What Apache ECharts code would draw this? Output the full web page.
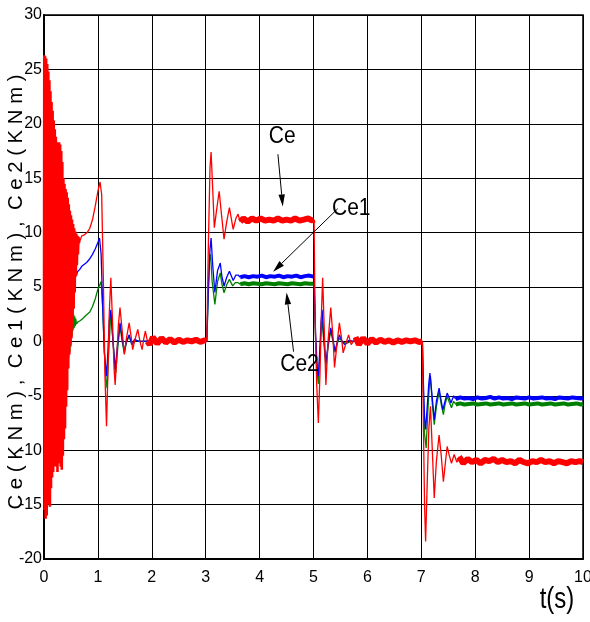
<!DOCTYPE html>
<html>
<head>
<meta charset="utf-8">
<script src="https://cdn.jsdelivr.net/npm/echarts@6/dist/echarts.min.js"></script>
<style>html,body{margin:0;padding:0;background:#fff;}#c{width:590px;height:622px;}</style>
</head>
<body>
<div id="c"></div>
<script>
// ---- axis ticks ----
var xTicks = [0,1,2,3,4,5,6,7,8,9,10];
var yTicks = [-20,-15,-10,-5,0,5,10,15,20,25,30];
var yTitle = 'C e ( K N m ) ,  C e 1 ( K N m ) ,  C e 2 ( K N m )';
var xTitle = 't(s)';

// ---- Ce (red): start-up oscillation, transients, steady bands ----
var ceBlob = [[0.00,0],[0.005,26.3],[0.01,-15.5],[0.02,26.2],[0.03,-16.3],[0.04,26.0],[0.05,-16.0],[0.06,25.5],[0.07,-15.0],[0.08,24.8],[0.09,-14.5],[0.10,24.0],[0.11,-15.2],[0.12,23.0],[0.13,-13.5],[0.14,22.0],[0.15,-12.5],[0.16,21.2],[0.17,-12.0],[0.18,20.3],[0.19,-11.5],[0.20,19.5],[0.21,-11.0],[0.22,18.8],[0.23,-11.5],[0.24,18.3],[0.25,-12.0],[0.26,18.2],[0.27,-11.2],[0.28,18.3],[0.29,-10.8],[0.30,18.1],[0.31,-11.5],[0.32,17.5],[0.33,-11.8],[0.34,16.5],[0.35,-10.5],[0.36,15.0],[0.37,-9.0],[0.38,14.5],[0.39,-8.0],[0.40,14.0],[0.41,-6.0],[0.42,13.7],[0.43,-4.5],[0.44,13.2],[0.45,-2.5],[0.46,12.6],[0.47,-1.2],[0.48,12.0],[0.49,-0.3],[0.50,11.6],[0.51,0.3],[0.52,11.2],[0.53,1.5],[0.54,10.8],[0.55,3.0],[0.56,10.4],[0.57,4.5],[0.58,10.1],[0.59,6.0],[0.60,9.9],[0.61,7.0],[0.62,9.7],[0.63,8.0],[0.64,9.6],[0.65,9.0]];
var ceStart = [[0.65,9.0],[0.70,9.7],[0.75,9.8],[0.80,10.0],[0.85,10.4],[0.90,11.2],[0.95,12.4],[1.00,13.8],[1.04,14.65],[1.07,13.5],[1.10,6.0],[1.13,-3.0],[1.16,-7.8],[1.18,-4.0],[1.21,2.5],[1.24,5.85],[1.27,2.0],[1.30,-2.5],[1.32,-4.0],[1.35,-1.5],[1.38,1.5],[1.41,3.1],[1.45,1.0],[1.49,-1.2],[1.53,0.3],[1.58,1.7],[1.62,0.3],[1.645,-0.75],[1.69,0.2],[1.74,1.1],[1.78,0.0],[1.82,-0.75],[1.85,0.2],[1.88,0.95],[1.92,0.0]];
var ceStep3 = [[3.02,0.05],[3.05,9.0],[3.08,16.0],[3.10,17.4],[3.13,14.0],[3.16,10.45],[3.20,12.0],[3.25,13.8],[3.29,11.8],[3.34,9.4],[3.39,11.0],[3.44,12.3],[3.51,10.3],[3.56,11.3],[3.60,11.7],[3.64,11.0]];
var ceStep5 = [[5.01,11.2],[5.03,2.0],[5.06,-4.0],[5.09,-7.5],[5.12,-3.0],[5.15,3.0],[5.17,5.85],[5.20,1.0],[5.23,-4.0],[5.27,0.0],[5.32,3.1],[5.36,0.5],[5.39,-2.4],[5.43,-0.5],[5.48,1.7],[5.52,0.3],[5.55,-1.05],[5.60,-0.2],[5.65,0.6],[5.70,-0.3],[5.75,0.1],[5.78,0.4]];
var ceStep7 = [[7.02,0.0],[7.04,-8.0],[7.06,-15.0],[7.08,-18.4],[7.11,-13.0],[7.14,-8.0],[7.17,-5.97],[7.20,-9.5],[7.24,-14.4],[7.28,-11.0],[7.33,-8.6],[7.37,-10.5],[7.41,-12.9],[7.45,-11.0],[7.48,-9.66],[7.52,-10.5],[7.56,-11.2],[7.61,-10.4],[7.66,-11.1],[7.70,-10.6]];
var ceBand1 = [[1.92,0.0],[1.96,-0.3],[2.02,0.4],[2.10,-0.2],[2.18,0.3],[2.26,-0.1],[2.34,0.2],[2.42,-0.1],[2.50,0.15],[2.58,-0.05],[2.66,0.1],[2.74,0.0],[2.82,0.15],[2.90,-0.05],[2.98,0.1],[3.02,0.05]];
var ceBand2 = [[3.64,11.0],[3.70,11.3],[3.78,11.0],[3.86,11.3],[3.94,11.1],[4.02,11.3],[4.10,11.1],[4.18,11.2],[4.26,11.1],[4.34,11.3],[4.42,11.1],[4.50,11.2],[4.58,11.1],[4.66,11.3],[4.74,11.1],[4.82,11.2],[4.90,11.3],[4.98,11.1],[5.01,11.2]];
var ceBand3 = [[5.78,0.4],[5.84,-0.3],[5.92,0.3],[6.00,-0.2],[6.08,0.2],[6.16,-0.1],[6.24,0.15],[6.32,-0.05],[6.40,0.1],[6.48,-0.1],[6.56,0.1],[6.64,-0.05],[6.72,0.1],[6.80,0.0],[6.88,0.1],[6.96,-0.05],[7.02,0.0]];
var ceBand4 = [[7.70,-10.6],[7.78,-11.2],[7.86,-10.8],[7.94,-11.1],[8.02,-10.9],[8.10,-11.2],[8.18,-10.9],[8.26,-11.0],[8.34,-10.8],[8.42,-11.1],[8.50,-10.9],[8.58,-11.1],[8.66,-11.0],[8.74,-11.2],[8.82,-10.9],[8.90,-11.1],[8.98,-11.2],[9.06,-11.0],[9.14,-11.1],[9.22,-10.9],[9.30,-11.1],[9.38,-11.0],[9.46,-11.2],[9.54,-11.0],[9.62,-11.1],[9.70,-11.2],[9.78,-11.0],[9.86,-11.1],[9.94,-11.0],[10.0,-11.1]];

// ---- Ce1 (blue) ----
var ce1Start = [[0.00,0],[0.01,20],[0.02,-12],[0.03,19],[0.04,-12.5],[0.05,18.5],[0.06,-12],[0.07,18],[0.08,-11.5],[0.09,17],[0.10,-11.5],[0.11,16],[0.12,-11],[0.13,15],[0.14,-11],[0.15,14],[0.16,-10.8],[0.17,13.5],[0.18,-10.6],[0.19,13],[0.20,-10.5],[0.21,12.5],[0.22,-10],[0.23,12],[0.24,-9.8],[0.25,11.5],[0.26,-9.5],[0.27,11],[0.28,-9],[0.29,10.5],[0.30,-8.5],[0.31,10],[0.32,-8],[0.33,9.5],[0.34,-7.3],[0.35,9],[0.36,-6.6],[0.37,8.8],[0.38,-6],[0.39,8.5],[0.40,-5.5],[0.41,8.2],[0.42,-4.5],[0.43,8],[0.44,-2.5],[0.45,7.8],[0.46,-1],[0.47,7.5],[0.48,0.5],[0.49,7.3],[0.50,2],[0.51,7.1],[0.52,3.2],[0.53,7],[0.54,4.2],[0.55,6.9],[0.56,5],[0.57,6.8],[0.58,5.6],[0.59,6.6],[0.60,6.0],[0.62,6.4],
  [0.66,6.6],[0.70,6.9],[0.75,7.1],[0.80,7.3],[0.85,7.6],[0.90,8.0],[0.95,8.5],[1.00,9.1],[1.03,9.5],[1.06,8.0],[1.09,3.0],[1.12,-1.0],[1.16,-3.2],[1.19,-0.5],[1.21,1.8],[1.24,2.9],[1.28,0.0],[1.32,-2.6],[1.36,-0.5],[1.41,1.7],[1.45,0.3],[1.49,-0.9],[1.53,0.0],[1.58,0.6],[1.63,-0.3],[1.68,0.2],[1.75,0.0],[2.0,0.05],[2.5,0.0],[3.02,0.0],
  [3.05,5.0],[3.08,8.5],[3.10,9.5],[3.13,7.0],[3.17,4.5],[3.22,6.5],[3.27,7.2],[3.30,6.0],[3.34,5.07],[3.39,5.9],[3.44,6.45],[3.51,5.6],[3.56,6.1],[3.60,6.1],[3.64,5.9]];
var ce1Step5 = [[5.01,5.95],[5.04,0.5],[5.07,-2.5],[5.09,-3.2],[5.12,-0.5],[5.14,1.8],[5.16,2.9],[5.19,0.5],[5.23,-2.0],[5.27,-0.3],[5.32,1.25],[5.36,0.2],[5.40,-0.9],[5.44,-0.1],[5.48,0.6],[5.53,0.0],[5.58,-0.3],[5.65,0.1],[5.75,0.0],[6.5,0.0],[7.02,0.0],
  [7.04,-4.0],[7.06,-7.0],[7.08,-8.1],[7.11,-6.0],[7.14,-3.8],[7.16,-2.9],[7.20,-5.0],[7.24,-7.2],[7.28,-5.5],[7.33,-4.3],[7.37,-5.5],[7.40,-6.3],[7.44,-5.5],[7.48,-4.75],[7.52,-5.2],[7.55,-5.66],[7.60,-5.0],[7.64,-5.3]];
var ce1Band1 = [[3.64,5.9],[3.72,6.0],[3.80,5.9],[3.88,6.0],[3.96,5.95],[4.04,6.05],[4.12,5.9],[4.20,6.0],[4.28,5.95],[4.36,6.05],[4.44,5.9],[4.52,6.0],[4.60,5.95],[4.68,6.05],[4.76,5.9],[4.84,6.0],[4.92,6.05],[5.00,5.95],[5.01,5.95]];
var ce1Band2 = [[7.64,-5.3],[7.72,-5.15],[7.80,-5.25],[7.88,-5.2],[7.96,-5.3],[8.04,-5.15],[8.12,-5.25],[8.20,-5.2],[8.28,-5.1],[8.36,-5.25],[8.44,-5.15],[8.52,-5.25],[8.60,-5.2],[8.68,-5.3],[8.76,-5.15],[8.84,-5.2],[8.92,-5.25],[9.00,-5.15],[9.08,-5.25],[9.16,-5.2],[9.24,-5.15],[9.32,-5.25],[9.40,-5.2],[9.48,-5.3],[9.56,-5.15],[9.64,-5.2],[9.72,-5.25],[9.80,-5.15],[9.88,-5.2],[9.96,-5.25],[10.0,-5.2]];

// ---- Ce2 (green) ----
var ce2Start = [[0.00,0],[0.01,15],[0.02,-9],[0.03,14],[0.04,-9],[0.05,13.5],[0.06,-8.5],[0.07,13],[0.08,-8.5],[0.09,12],[0.10,-8],[0.11,11.5],[0.12,-8],[0.13,11],[0.14,-7.5],[0.15,10.5],[0.16,-7.5],[0.17,10],[0.18,-7],[0.19,9.5],[0.20,-7],[0.21,9],[0.22,-6.5],[0.23,8.5],[0.24,-6.5],[0.25,8],[0.26,-6],[0.27,7.5],[0.28,-6],[0.29,7],[0.30,-5.5],[0.31,6.5],[0.32,-5],[0.33,6],[0.34,-4.5],[0.35,5.5],[0.36,-4],[0.37,5],[0.38,-3.5],[0.39,4.5],[0.40,-3],[0.41,4.2],[0.42,-2.5],[0.43,4],[0.44,-2],[0.45,3.8],[0.46,-1.5],[0.47,3.5],[0.48,-1],[0.49,3.3],[0.50,-0.5],[0.51,3],[0.52,0.5],[0.53,2.7],[0.54,1.0],[0.55,2.5],[0.56,1.2],[0.57,2.3],[0.58,1.4],[0.59,2.1],[0.60,1.6],
  [0.63,1.8],[0.67,1.9],[0.72,2.1],[0.78,2.4],[0.85,2.7],[0.90,3.2],[0.95,3.9],[1.00,4.8],[1.06,5.5],[1.09,3.0],[1.12,-1.0],[1.15,-3.5],[1.17,-4.3],[1.20,-1.0],[1.24,2.6],[1.28,0.0],[1.33,-2.9],[1.37,-0.5],[1.41,1.4],[1.45,0.0],[1.49,-1.1],[1.53,-0.1],[1.58,0.5],[1.63,-0.3],[1.70,0.1],[1.80,0.0],[2.50,0.0],[3.02,0.0],
  [3.05,4.5],[3.07,7.5],[3.09,8.0],[3.12,5.5],[3.17,3.4],[3.22,5.5],[3.27,6.3],[3.30,5.3],[3.34,4.47],[3.39,5.2],[3.44,5.7],[3.50,5.1],[3.55,5.4],[3.60,5.4],[3.64,5.25]];
var ce2Step5 = [[5.01,5.3],[5.04,0.0],[5.07,-3.0],[5.09,-3.9],[5.12,-1.0],[5.14,1.0],[5.16,1.9],[5.19,0.0],[5.23,-2.3],[5.27,-0.5],[5.32,1.0],[5.36,0.0],[5.40,-1.0],[5.44,-0.2],[5.48,0.3],[5.53,0.0],[5.60,-0.2],[5.70,0.0],[6.50,0.0],[7.02,0.0],
  [7.04,-5.0],[7.06,-8.5],[7.09,-9.8],[7.12,-6.5],[7.15,-4.0],[7.17,-3.2],[7.20,-5.5],[7.24,-7.65],[7.28,-6.0],[7.33,-4.6],[7.37,-5.8],[7.41,-6.74],[7.44,-5.8],[7.48,-5.05],[7.52,-5.6],[7.56,-6.1],[7.60,-5.5],[7.64,-5.8]];
var ce2Band1 = [[3.64,5.25],[3.72,5.35],[3.80,5.25],[3.88,5.35],[3.96,5.3],[4.04,5.25],[4.12,5.35],[4.20,5.3],[4.28,5.25],[4.36,5.35],[4.44,5.3],[4.52,5.25],[4.60,5.35],[4.68,5.3],[4.76,5.25],[4.84,5.35],[4.92,5.3],[5.00,5.3],[5.01,5.3]];
var ce2Band2 = [[7.64,-5.8],[7.72,-5.7],[7.80,-5.8],[7.88,-5.75],[7.96,-5.7],[8.04,-5.8],[8.12,-5.75],[8.20,-5.7],[8.28,-5.8],[8.36,-5.75],[8.44,-5.7],[8.52,-5.8],[8.60,-5.75],[8.68,-5.7],[8.76,-5.8],[8.84,-5.75],[8.92,-5.7],[9.00,-5.8],[9.08,-5.75],[9.16,-5.7],[9.24,-5.8],[9.32,-5.75],[9.40,-5.7],[9.48,-5.8],[9.56,-5.75],[9.64,-5.7],[9.72,-5.8],[9.80,-5.75],[9.88,-5.7],[9.96,-5.8],[10.0,-5.75]];

// ---- annotations (data coordinates) ----
var labelNames = ['Ce','Ce1','Ce2'];
var labelPos = [[4.42,18.86],[5.70,12.2],[4.74,-2.1]];
var arrowFrom = [[4.34,17.2],[5.45,12.2],[4.63,-0.94]];
var arrowTo = [[4.43,12.4],[4.25,6.4],[4.50,4.5]];

function joinSegs(segs){
  var out = [];
  segs.forEach(function(s,i){ if(i>0){ out.push([s[0][0], '-']); } out = out.concat(s); });
  return out;
}

var FONT = "'Liberation Sans Narrow','Liberation Sans',Arial,sans-serif";
var chart = echarts.init(document.getElementById('c'), null, {renderer:'canvas'});

function lineS(data, color, w, z){
  return {type:'line', data:data, showSymbol:false, symbol:'none', animation:false, sampling:null,
    connectNulls:false, lineStyle:{color:color, width:w}, itemStyle:{color:color}, z:z, silent:true};
}

var option = {
  backgroundColor:'#fff',
  animation:false,
  grid:{left:44, right:7, top:15, bottom:63, containLabel:false, outerBoundsMode:'none',
    show:true, borderColor:'#000', borderWidth:1.5, backgroundColor:'transparent'},
  xAxis:{type:'value', min:0, max:10, interval:1,
    axisLine:{show:true, onZero:false, lineStyle:{color:'#000', width:2}},
    axisTick:{show:false},
    axisLabel:{color:'#000', fontSize:16, fontFamily:FONT, margin:11, formatter:function(v){return xTicks.indexOf(v)>=0?String(v):'';}},
    splitLine:{show:true, lineStyle:{color:'#000', width:1}}},
  yAxis:{type:'value', min:-20, max:30, interval:5,
    axisLine:{show:true, onZero:false, lineStyle:{color:'#000', width:2}},
    axisTick:{show:false},
    axisLabel:{color:'#000', fontSize:16, fontFamily:FONT, margin:2, formatter:function(v){return yTicks.indexOf(v)>=0?String(v):'';}},
    splitLine:{show:true, lineStyle:{color:'#000', width:1}}},
  series:[
    lineS(ce2Start.concat([[3.64,'-']]).concat(ce2Step5), '#008000', 1.3, 2),
    lineS(ce1Start.concat([[3.64,'-']]).concat(ce1Step5), '#0000ff', 1.3, 3),
    lineS(joinSegs([ce2Band1, ce2Band2]), '#008000', 4, 4),
    lineS(joinSegs([ce1Band1, ce1Band2]), '#0000ff', 4, 5),
    lineS(ceBlob, '#ff0000', 2.6, 6),
    lineS(joinSegs([ceStart, ceStep3, ceStep5, ceStep7]), '#ff0000', 1.3, 6),
    lineS(joinSegs([ceBand1, ceBand2, ceBand3, ceBand4]), '#ff0000', 6, 7)
  ]
};
chart.setOption(option);

// annotations drawn with pixel positions converted from data coordinates
var g = [];
function px(p){ return chart.convertToPixel({gridIndex:0}, p); }
for (var i=0;i<labelNames.length;i++){
  var a = px(arrowFrom[i]), b = px(arrowTo[i]);
  var dx=b[0]-a[0], dy=b[1]-a[1], L=Math.sqrt(dx*dx+dy*dy), ux=dx/L, uy=dy/L;
  var hl=12, hw=3.2;
  var bx=b[0]-ux*hl, by=b[1]-uy*hl;
  g.push({type:'line', shape:{x1:a[0],y1:a[1],x2:bx,y2:by}, style:{stroke:'#000', lineWidth:1}, z:100});
  g.push({type:'polygon', shape:{points:[[b[0],b[1]],[bx-uy*hw,by+ux*hw],[bx+uy*hw,by-ux*hw]]}, style:{fill:'#000'}, z:100});
  var c = px(labelPos[i]);
  g.push({type:'text', x:c[0], y:c[1], scaleY:1.15, style:{text:labelNames[i], fill:'#000', font:'21px '+FONT, align:'center', verticalAlign:'middle'}, z:100});
}
g.push({type:'text', x:557, y:600, scaleY:1.2, style:{text:xTitle, fill:'#000', font:'24px '+FONT, align:'center', verticalAlign:'middle'}, z:100});
// rotated y-axis title, condensed to the reference length
var mctx = document.createElement('canvas').getContext('2d');
mctx.font = '21px ' + FONT;
var tw = mctx.measureText(yTitle).width;
var yc = (px([0,-20])[1] + px([0,30])[1]) / 2 + 5;
g.push({type:'text', x:16, y:yc, rotation:Math.PI/2, scaleX:435/tw, style:{text:yTitle, fill:'#000', font:'21px '+FONT, align:'center', verticalAlign:'middle'}, z:50});
chart.setOption({graphic:g});
</script>
</body>
</html>
